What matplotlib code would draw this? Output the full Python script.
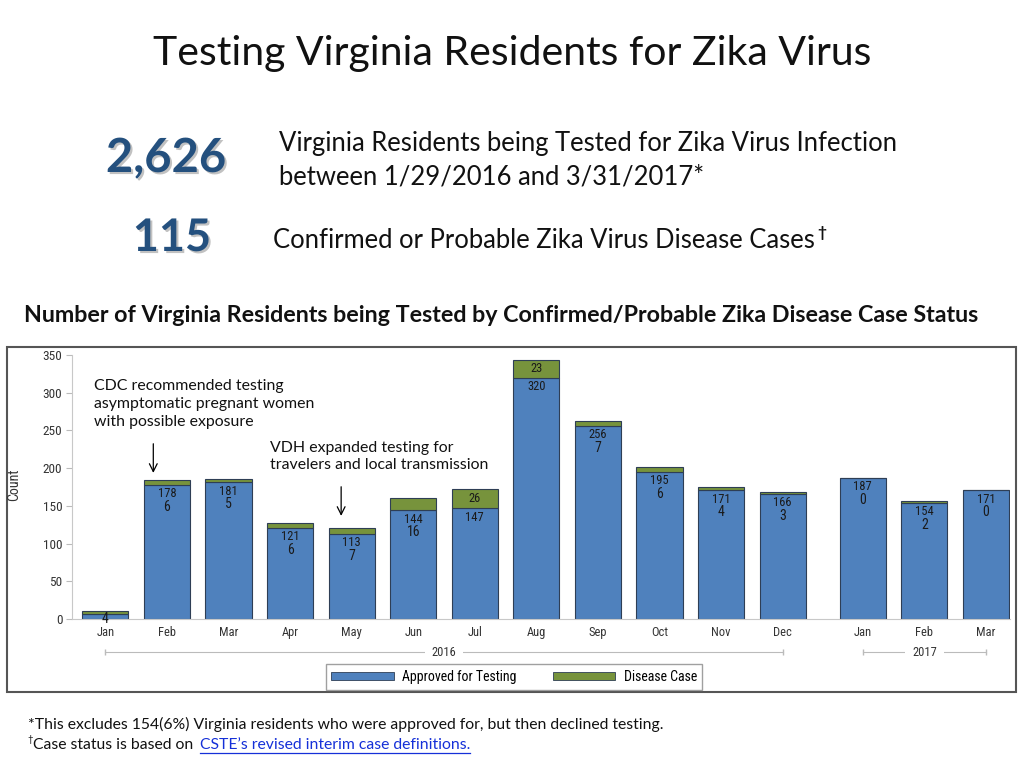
import matplotlib
matplotlib.use('Agg')
import matplotlib.pyplot as plt
from matplotlib.patches import Rectangle, Patch
from matplotlib.lines import Line2D
import matplotlib.patheffects as pe
import matplotlib.transforms as mtransforms
from matplotlib import font_manager

# ---------------- data ----------------
months = ['Jan', 'Feb', 'Mar', 'Apr', 'May', 'Jun', 'Jul', 'Aug', 'Sep', 'Oct',
          'Nov', 'Dec', 'Jan', 'Feb', 'Mar']
years = ['2016'] * 12 + ['2017'] * 3
approved = [7, 178, 181, 121, 113, 144, 147, 320, 256, 195, 171, 166, 187, 154, 171]
disease = [4, 6, 5, 6, 7, 16, 26, 23, 7, 6, 4, 3, 0, 2, 0]
yticks = [0, 50, 100, 150, 200, 250, 300, 350]
total_tested = '2,626'
total_cases = '115'

BLUE = '#4F81BD'
GREEN = '#77933C'
EDGE = '#2E3E55'

available = {f.name for f in font_manager.fontManager.ttflist}
narrow_name = next((n for n in ['Liberation Sans Narrow', 'DejaVu Sans Condensed',
                                'Roboto Condensed', 'Liberation Sans'] if n in available),
                   'DejaVu Sans')
NARROW = [narrow_name, 'DejaVu Sans']
BODY = ['Lato', 'DejaVu Sans']

W, H = 1024, 768
fig = plt.figure(figsize=(W / 100, H / 100), dpi=100)
renderer = fig.canvas.get_renderer()


def fx(px):
    return px / W


def fy(py):
    return 1 - py / H


def fit(t, width_px):
    w = t.get_window_extent(renderer).width
    t.set_fontsize(t.get_fontsize() * width_px / w)
    return t


# ---------------- header texts ----------------
t = fig.text(fx(512), fy(53), 'Testing Virginia Residents for Zika Virus', ha='center',
             va='center', family=BODY, fontsize=30, color='#111111')
fit(t, 718)

shadow = [pe.withSimplePatchShadow(offset=(1.5, -1.5), shadow_rgbFace='#777777', alpha=0.45)]
t = fig.text(fx(166), fy(158), total_tested, ha='center', va='center', family=BODY,
             weight='bold', fontsize=30, color='#24507E', path_effects=shadow)
fit(t, 120)
t = fig.text(fx(172), fy(238), total_cases, ha='center', va='center', family=BODY,
             weight='bold', fontsize=30, color='#24507E', path_effects=shadow)
fit(t, 78)

t1 = fig.text(fx(279), fy(143), 'Virginia Residents being Tested for Zika Virus Infection',
              ha='left', va='center', family=BODY, fontsize=16, color='#111111')
fit(t1, 621)
fs_body = t1.get_fontsize()
fig.text(fx(279), fy(177), 'between 1/29/2016 and 3/31/2017*', ha='left', va='center',
         family=BODY, fontsize=fs_body, color='#111111')
t3 = fig.text(fx(273), fy(240), 'Confirmed or Probable Zika Virus Disease Cases',
              ha='left', va='center', family=BODY, fontsize=fs_body, color='#111111')
ext = t3.get_window_extent(renderer)
fig.text(ext.x1 / W + 0.002, fy(233), '\u2020', ha='left', va='center', family=BODY,
         weight='bold', fontsize=fs_body * 0.6, color='#111111')

t = fig.text(fx(501), fy(316),
             'Number of Virginia Residents being Tested by Confirmed/Probable Zika Disease Case Status',
             ha='center', va='center', family=BODY, weight='bold', fontsize=14, color='#111111')
fit(t, 963)

# ---------------- chart frame ----------------
fig.add_artist(Rectangle((fx(7), fy(692)), fx(1016) - fx(7), fy(347) - fy(692),
                         transform=fig.transFigure, fill=False, edgecolor='#555555', lw=1.5))

# ---------------- axes ----------------
ax = fig.add_axes([fx(72), fy(619), fx(1010) - fx(72), fy(355) - fy(619)])
year_list = []
for y in years:
    if y not in year_list:
        year_list.append(y)
pos = [i + 0.3 * year_list.index(y) for i, y in enumerate(years)]

ax.bar(pos, approved, width=0.75, color=BLUE, edgecolor=EDGE, linewidth=0.8)
ax.bar(pos, disease, width=0.75, bottom=approved, color=GREEN, edgecolor=EDGE, linewidth=0.8)

ax.set_ylim(0, 350)
ax.set_xlim(-0.54, 14.69)
ax.set_yticks(yticks)
ax.set_yticklabels([str(v) for v in yticks], family=NARROW, fontsize=9.5, color='#333333')
ax.set_xticks(pos)
ax.set_xticklabels(months, family=NARROW, fontsize=9, color='#333333')
ax.tick_params(axis='x', length=0, pad=5)
ax.tick_params(axis='y', length=4, color='#BBBBBB', pad=3)
for s in ['top', 'right']:
    ax.spines[s].set_visible(False)
for s in ['left', 'bottom']:
    ax.spines[s].set_color('#C8C8C8')
ax.patch.set_alpha(0)

fig.text(fx(14), fy(485), 'Count', rotation=90, ha='center', va='center', family=NARROW,
         fontsize=10, color='#333333')

# value labels
for p, a, d in zip(pos, approved, disease):
    if a < 20:
        ax.text(p, 0, str(d), ha='center', va='center', family=NARROW, fontsize=10,
                color='#1a1a1a')
        continue
    ax.annotate(str(a), (p, a), xytext=(0, -9), textcoords='offset pixels', ha='center',
                va='center', family=NARROW, fontsize=9, color='#1a1a1a')
    if d >= 20:
        ax.text(p, a + d / 2, str(d), ha='center', va='center', family=NARROW, fontsize=9,
                color='#1a1a1a')
    else:
        ax.annotate(str(d), (p, a), xytext=(0, -22), textcoords='offset pixels', ha='center',
                    va='center', family=NARROW, fontsize=10, color='#1a1a1a')

# year group rows
trans = mtransforms.blended_transform_factory(ax.transData, fig.transFigure)
for yr in year_list:
    idx = [i for i, y in enumerate(years) if y == yr]
    x0, x1 = pos[idx[0]], pos[idx[-1]]
    ax.add_line(Line2D([x0, x1], [fy(652)] * 2, transform=trans, color='#BBBBBB', lw=0.8,
                       marker='|', markersize=5, clip_on=False))
    ax.text((x0 + x1) / 2, fy(652), yr, transform=trans, ha='center', va='center',
            family=NARROW, fontsize=9, color='#333333',
            bbox=dict(facecolor='white', edgecolor='none', pad=5))

# annotations
ta = fig.text(fx(94), fy(404), 'CDC recommended testing\nasymptomatic pregnant women\nwith possible exposure',
              ha='left', va='center', family=BODY, fontsize=11, color='#111111', linespacing=1.35)
fit(ta, 220)
tb = fig.text(fx(270), fy(456.5), 'VDH expanded testing for\ntravelers and local transmission',
              ha='left', va='center', family=BODY, fontsize=ta.get_fontsize(), color='#111111',
              linespacing=1.35)
ax.annotate('', xy=(0.78, 190), xytext=(0.78, 236),
            arrowprops=dict(arrowstyle='->', color='black', lw=0.9, mutation_scale=14))
ax.annotate('', xy=(3.83, 133), xytext=(3.83, 179),
            arrowprops=dict(arrowstyle='->', color='black', lw=0.9, mutation_scale=14))

# legend
handles = [Patch(facecolor=BLUE, edgecolor=EDGE, lw=0.6), Patch(facecolor=GREEN, edgecolor=EDGE, lw=0.6)]
leg = fig.legend(handles, ['Approved for Testing', 'Disease Case'], loc='center',
                 bbox_to_anchor=(fx(514), fy(677)), ncol=2, frameon=True, fancybox=False,
                 edgecolor='#888888', handlelength=4.5, handleheight=0.45,
                 columnspacing=2.6, borderpad=0.4, handletextpad=0.6,
                 prop={'family': NARROW, 'size': 10})
leg.get_frame().set_linewidth(1.0)

# footnotes
tf = fig.text(fx(28), fy(724), '*This excludes 154(6%) Virginia residents who were approved for, but then declined testing.',
              ha='left', va='center', family=BODY, fontsize=11, color='#111111')
fit(tf, 633)
fsf = tf.get_fontsize()
fig.text(fx(27), fy(740), '\u2020', ha='left', va='center', family=BODY, fontsize=fsf * 0.6,
         color='#111111')
fig.text(fx(33), fy(745), 'Case status is based on', ha='left', va='center', family=BODY,
         fontsize=fsf, color='#111111')
tl = fig.text(fx(200), fy(745), 'CSTE\u2019s revised interim case definitions.', ha='left',
              va='center', family=BODY, fontsize=fsf, color='#1530D8')
e = tl.get_window_extent(renderer)
fig.add_artist(Line2D([e.x0 / W, e.x1 / W], [fy(753)] * 2, transform=fig.transFigure,
                      color='#1530D8', lw=0.9))

fig.savefig('out.png', dpi=100)
